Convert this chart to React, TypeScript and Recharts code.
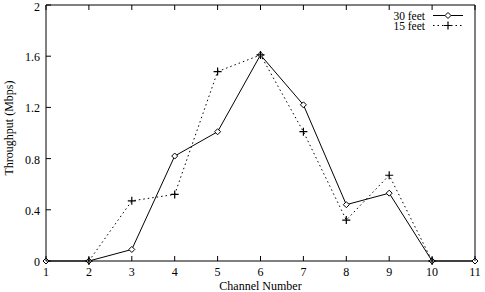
import React from "react";
import { LineChart, Line, XAxis, YAxis } from "recharts";

const channels = [1, 2, 3, 4, 5, 6, 7, 8, 9, 10, 11];
const feet30 = [0, 0, 0.09, 0.82, 1.01, 1.61, 1.22, 0.44, 0.53, 0, 0];
const feet15: (number | null)[] = [null, 0, 0.47, 0.52, 1.48, 1.61, 1.01, 0.32, 0.67, 0, null];
const xTicks = [1, 2, 3, 4, 5, 6, 7, 8, 9, 10, 11];
const yTicks = [0, 0.4, 0.8, 1.2, 1.6, 2];
const seriesNames = ["30 feet", "15 feet"];

const data = channels.map((c, i) => ({ ch: c, a: feet30[i], b: feet15[i] }));

const FONT = "'Liberation Serif', 'DejaVu Serif', serif";
const FS = 12;

const Diamond = (props: any) => {
  const { cx, cy, index } = props;
  if (cx == null || cy == null || props.value == null) return <g key={index} />;
  const r = 3;
  return (
    <path
      key={index}
      d={`M${cx},${cy - r}L${cx + r},${cy}L${cx},${cy + r}L${cx - r},${cy}Z`}
      fill="white"
      stroke="#000"
      strokeWidth={1}
    />
  );
};

const Plus = (props: any) => {
  const { cx, cy, index } = props;
  if (cx == null || cy == null || props.value == null) return <g key={index} />;
  const r = 4;
  return (
    <path
      key={index}
      d={`M${cx - r},${cy}L${cx + r},${cy}M${cx},${cy - r}L${cx},${cy + r}`}
      stroke="#000"
      strokeWidth={1.2}
      fill="none"
    />
  );
};

const BottomTick = (props: any) => {
  const { x, y, payload } = props;
  return (
    <g>
      <line x1={x} x2={x} y1={y} y2={y - 5} stroke="#000" />
      <text x={x} y={y + 15} textAnchor="middle" fontSize={FS} fontFamily={FONT} fill="#000">
        {payload.value}
      </text>
    </g>
  );
};

const TopTick = (props: any) => {
  const { x, y } = props;
  return <line x1={x} x2={x} y1={y} y2={y + 5} stroke="#000" />;
};

const LeftTick = (props: any) => {
  const { x, y, payload } = props;
  return (
    <g>
      <line x1={x} x2={x + 5} y1={y} y2={y} stroke="#000" />
      <text x={x - 6} y={Math.max(y + 5, 11)} textAnchor="end" fontSize={FS} fontFamily={FONT} fill="#000">
        {String(payload.value)}
      </text>
    </g>
  );
};

const RightTick = (props: any) => {
  const { x, y } = props;
  return <line x1={x} x2={x - 5} y1={y} y2={y} stroke="#000" />;
};

const YLabel = () => (
  <text
    x={9}
    y={128}
    transform="rotate(-90, 9, 128)"
    textAnchor="middle"
    dominantBaseline="central"
    fontSize={FS}
    fontFamily={FONT}
    fill="#000"
  >
    Throughput (Mbps)
  </text>
);

const LegendBox = () => (
  <svg width={100} height={40} style={{ position: "absolute", left: 370, top: 0, display: "block" }}>
    <text x={55} y={19.5} textAnchor="end" fontSize={11.5} fontFamily={FONT} fill="#000">
      {seriesNames[0]}
    </text>
    <line x1={63} x2={93} y1={15.5} y2={15.5} stroke="#000" />
    <path d="M78,12.5L81,15.5L78,18.5L75,15.5Z" fill="white" stroke="#000" />
    <text x={55} y={30} textAnchor="end" fontSize={11.5} fontFamily={FONT} fill="#000">
      {seriesNames[1]}
    </text>
    <line x1={63} x2={93} y1={25.5} y2={25.5} stroke="#000" strokeDasharray="1.5 3" />
    <path d="M74,25.5L82,25.5M78,21.5L78,29.5" stroke="#000" strokeWidth={1.2} />
  </svg>
);

export default function App() {
  return (
    <div style={{ position: "absolute", left: 0, top: 0, width: 485, height: 292, background: "#fff" }}>
      <LineChart width={485} height={292} data={data} margin={{ top: 0, right: 0, bottom: 0, left: 0 }}>
        <XAxis
          dataKey="ch"
          type="number"
          xAxisId="bottom"
          orientation="bottom"
          domain={[1, 11]}
          ticks={xTicks}
          height={31}
          tickSize={0}
          tickMargin={0}
          tickLine={false}
          axisLine={{ stroke: "#000" }}
          tick={<BottomTick />}
          interval={0}
          label={{ value: "Channel Number", position: "insideBottom", offset: 2, fontSize: FS, fontFamily: FONT, fill: "#000" }}
        />
        <XAxis
          dataKey="ch"
          type="number"
          xAxisId="top"
          orientation="top"
          domain={[1, 11]}
          ticks={xTicks}
          height={5}
          tickSize={0}
          tickMargin={0}
          tickLine={false}
          axisLine={{ stroke: "#000" }}
          tick={<TopTick />}
          interval={0}
        />
        <YAxis
          yAxisId="left"
          orientation="left"
          type="number"
          domain={[0, 2]}
          ticks={yTicks}
          width={46}
          tickSize={0}
          tickMargin={0}
          tickLine={false}
          axisLine={{ stroke: "#000" }}
          tick={<LeftTick />}
          interval={0}
          label={{ content: <YLabel /> }}
        />
        <YAxis
          yAxisId="right"
          orientation="right"
          type="number"
          domain={[0, 2]}
          ticks={yTicks}
          width={10}
          tickSize={0}
          tickMargin={0}
          tickLine={false}
          axisLine={{ stroke: "#000" }}
          tick={<RightTick />}
          interval={0}
        />
        <Line
          xAxisId="bottom"
          yAxisId="left"
          dataKey="a"
          name={seriesNames[0]}
          stroke="#000"
          strokeWidth={1}
          dot={<Diamond />}
          activeDot={false}
          isAnimationActive={false}
        />
        <Line
          xAxisId="bottom"
          yAxisId="left"
          dataKey="b"
          name={seriesNames[1]}
          stroke="#000"
          strokeWidth={1}
          strokeDasharray="1.5 3"
          dot={<Plus />}
          activeDot={false}
          isAnimationActive={false}
        />
      </LineChart>
      <LegendBox />
    </div>
  );
}
